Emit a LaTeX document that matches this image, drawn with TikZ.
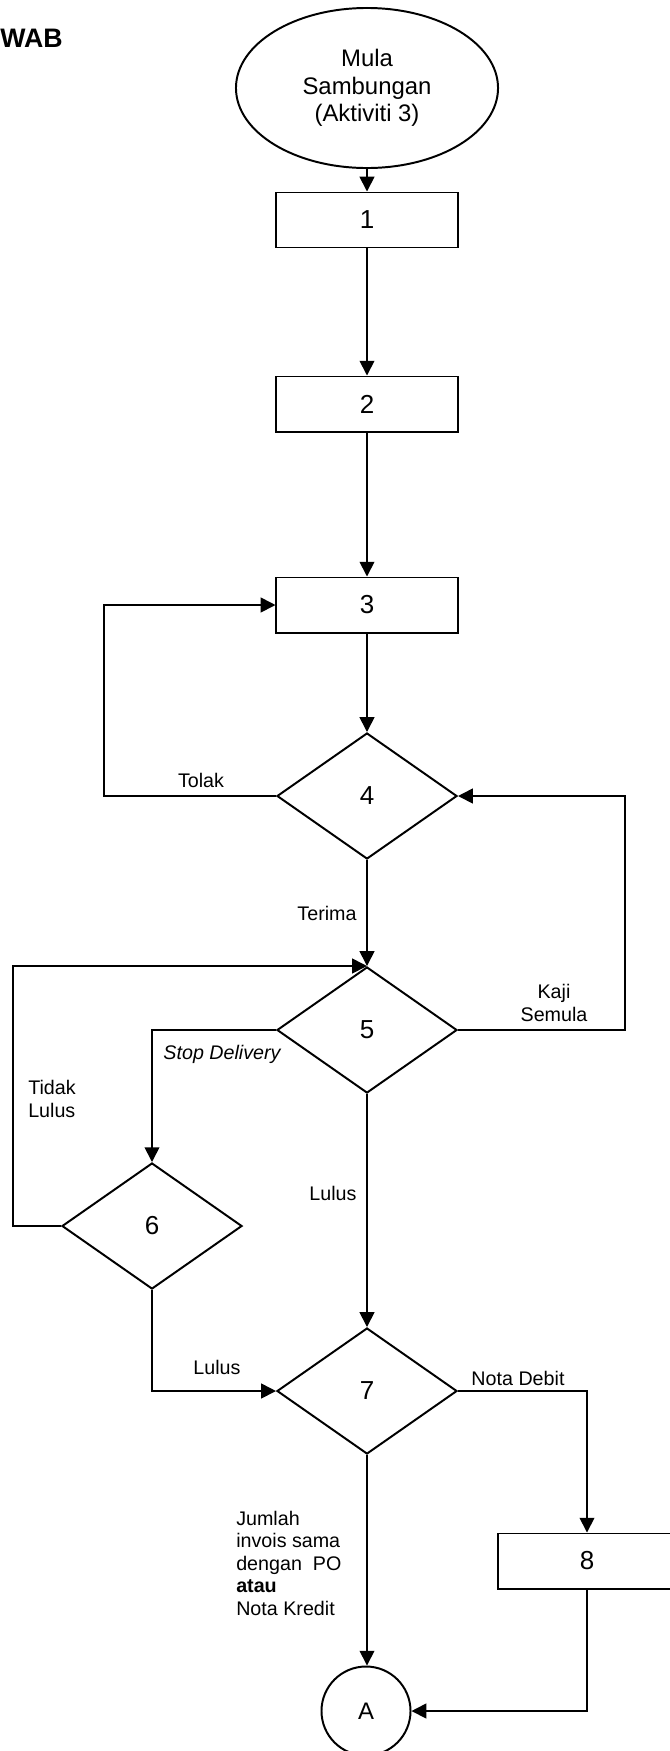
\documentclass[tikz,border=0pt]{standalone}
\usepackage{fontspec}
\setmainfont{Liberation Sans}
\usetikzlibrary{shapes.geometric,arrows.meta}
\begin{document}
\begin{tikzpicture}[x=0.025cm,y=-0.025cm,>={Triangle[length=10.5pt,width=10.5pt]},
	font=\fontsize{14}{16}\selectfont, line join=miter,
	proses/.style={draw,line width=1.4pt,rectangle,minimum width=4.525cm,minimum height=1.375cm,inner sep=0pt,font=\fontsize{18.5}{20}\selectfont},
	keputusan/.style={draw,line width=1.4pt,diamond,minimum width=4.5cm,minimum height=3.15cm,inner sep=0pt,font=\fontsize{18.5}{20}\selectfont},
	aliran/.style={->,line width=1.2pt},
	catatan/.style={inner sep=0pt}]
	\useasboundingbox (0,0) rectangle (670,1751);
	\node[catatan,anchor=west,font=\fontsize{19}{21}\selectfont\bfseries] (tajuk) at (0,38) {WAB};
	\node[draw,ellipse,line width=1.4pt,minimum width=6.55cm,minimum height=4cm,inner sep=0pt,align=center,font=\fontsize{17}{19.5}\selectfont] (mula) at (367,88) {Mula\\Sambungan\\(Aktiviti 3)};
	\node[proses] (b1) at (367,220) {1};
	\node[proses] (b2) at (367,404) {2};
	\node[proses] (b3) at (367,605) {3};
	\node[keputusan] (d4) at (367,796) {4};
	\node[keputusan] (d5) at (367,1030) {5};
	\node[keputusan] (d6) at (152,1226) {6};
	\node[keputusan] (d7) at (367,1391) {7};
	\node[proses,minimum width=4.45cm] (b8) at (587,1561) {8};
	\node[draw,circle,line width=1.4pt,minimum size=2.225cm,inner sep=0pt,font=\fontsize{17}{19}\selectfont] (A) at (366,1711) {A};
	\coordinate (kiriA) at (104,0);
	\coordinate (kiriB) at (13,0);
	\coordinate (kanan) at (625,0);
	\draw[aliran] (mula) -- (b1);
	\draw[aliran] (b1) -- (b2);
	\draw[aliran] (b2) -- (b3);
	\draw[aliran] (b3) -- (d4);
	\draw[aliran] (d4.west) -- (d4.west -| kiriA) |- (b3.west);
	\draw[aliran] (d4) -- (d5);
	\draw[aliran] (d5.east) -- (d5.east -| kanan) |- (d4.east);
	\draw[aliran] (d5.west) -| (d6.north);
	\draw[aliran] (d6.west) -- (d6.west -| kiriB) |- (d5.north);
	\draw[aliran] (d5) -- (d7);
	\draw[aliran] (d6.south) |- (d7.west);
	\draw[aliran] (d7.east) -| (b8.north);
	\draw[aliran] (d7.south) -- (d7.south |- A.north);
	\draw[aliran] (b8.south) |- (A.east);
	\node[catatan] (tolak) at (201,780) {Tolak};
	\node[catatan] (terima) at (327,913) {Terima};
	\node[catatan,align=center] (kaji) at (554,1003) {Kaji\\Semula};
	\node[catatan,font=\fontsize{14}{16}\selectfont\itshape] (stop) at (222,1054) {Stop Delivery};
	\node[catatan,align=left,anchor=west] (tidak) at (28,1099) {Tidak\\Lulus};
	\node[catatan] (lulusA) at (333,1193) {Lulus};
	\node[catatan] (lulusB) at (217,1367) {Lulus};
	\node[catatan] (debit) at (518,1378) {Nota Debit};
	\node[catatan,align=left,anchor=west] (jumlah) at (236,1563) {Jumlah\\invois sama\\dengan~~PO\\\textbf{atau}\\Nota Kredit};
\end{tikzpicture}
\end{document}
